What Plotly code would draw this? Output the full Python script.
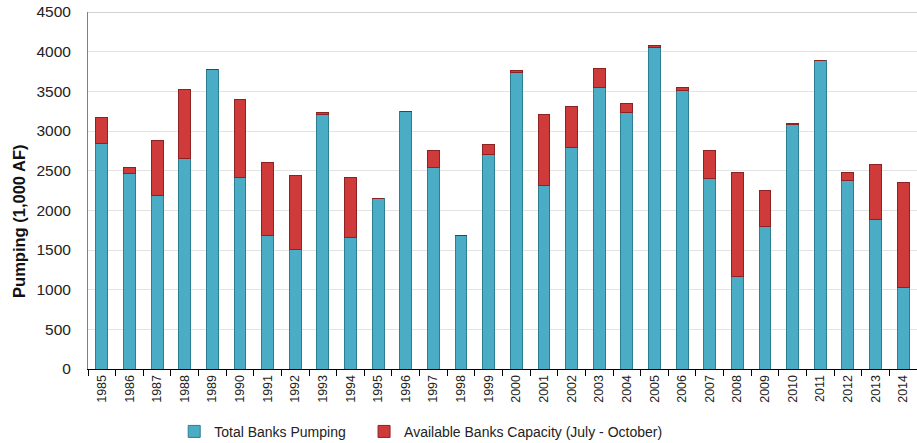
import plotly.graph_objects as go

years = [str(y) for y in range(1985, 2015)]
total_pumping = [2840, 2470, 2185, 2651, 3781, 2420, 1689, 1504, 3206, 1659,
                 2143, 3243, 2541, 1689, 2701, 3739, 2311, 2790, 3546, 3227,
                 4054, 3512, 2399, 1172, 1790, 3080, 3883, 2370, 1882, 1025]
bar_tops = [3168, 2541, 2878, 3525, 3781, 3403, 2609, 2441, 3227, 2415,
            2143, 3243, 2748, 1689, 2824, 3760, 3206, 3303, 3794, 3344,
            4079, 3546, 2748, 2471, 2248, 3096, 3883, 2483, 2584, 2352]
available_capacity = [t - b for t, b in zip(bar_tops, total_pumping)]
y_title = "Pumping (1,000 AF)"

font_family = "Liberation Sans, Arial, sans-serif"

fig = go.Figure()
fig.add_trace(go.Bar(
    x=years, y=total_pumping, name="Total Banks Pumping",
    marker=dict(color="#4bacc6", line=dict(color="#2e7e93", width=1)),
    legend="legend",
))
fig.add_trace(go.Bar(
    x=years, y=available_capacity, name="Available Banks Capacity (July - October)",
    marker=dict(color="#cf3b3b", line=dict(color="#8e2222", width=1)),
    legend="legend2",
))

legend_common = dict(orientation="h", xanchor="left", y=-0.176, yanchor="middle",
                     font=dict(size=14, color="#222222"),
                     itemwidth=30, bgcolor="rgba(0,0,0,0)")

fig.update_layout(
    barmode="stack",
    bargap=0.57,
    width=917, height=443,
    margin=dict(l=88, r=0, t=12, b=74, autoexpand=False),
    paper_bgcolor="white", plot_bgcolor="white",
    font=dict(family=font_family, color="#222222"),
    showlegend=True,
    legend=dict(x=0.104, **legend_common),
    legend2=dict(x=0.333, **legend_common),
    xaxis=dict(
        type="category", tickangle=-90, tickfont=dict(size=12.5, color="#222222"),
        ticks="outside", tickson="boundaries", ticklen=6, tickcolor="#000000",
        showline=True, linecolor="#000000", linewidth=1, showgrid=False,
    ),
    yaxis=dict(
        range=[0, 4500], dtick=500, tickfont=dict(size=15.5, color="#222222"),
        showgrid=True, gridcolor="#e3e3e3", gridwidth=1,
        showline=True, linecolor="#7f7f7f", linewidth=1, ticks="",
        ticklabelstandoff=13,
        zeroline=False,
    ),
)
fig.add_annotation(text="<b>" + y_title + "</b>", xref="paper", yref="paper",
                   x=-0.0832, y=0.412, xanchor="center", yanchor="middle",
                   textangle=-90, showarrow=False,
                   font=dict(size=16.5, color="#111111", family=font_family))
fig.add_shape(type="line", xref="paper", yref="y", x0=0, x1=1, y0=4500, y1=4500,
              line=dict(color="#a6a6a6", width=1))

fig.write_html("out.html", config={"displayModeBar": False},
               post_script="document.body.style.margin='0';")
